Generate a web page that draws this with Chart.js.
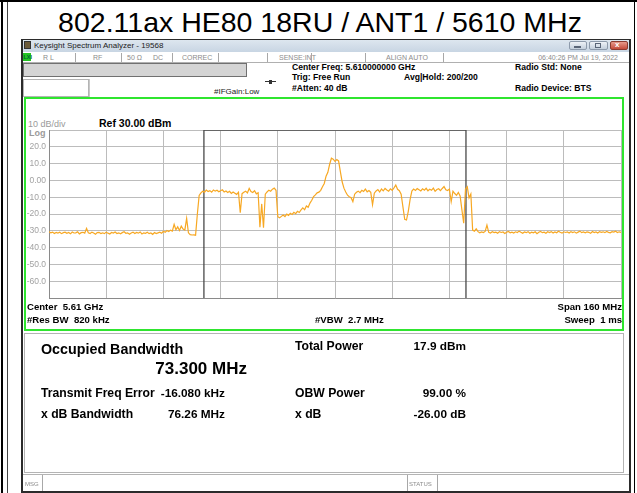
<!DOCTYPE html>
<html lang="en">
<head>
<meta charset="UTF-8">
<title>802.11ax HE80 18RU / ANT1 / 5610 MHz</title>
<script src="https://cdn.jsdelivr.net/npm/chart.js"></script>
<style>
  html, body { margin: 0; padding: 0; background: #fff; }
  #page { position: relative; width: 637px; height: 493px; overflow: hidden;
          font-family: Arial, "Liberation Sans", sans-serif; color: #000; }
  .box { position: absolute; box-sizing: border-box; }
  .t { position: absolute; white-space: nowrap; line-height: 1; }
  .hdr { font-size: 8.6px; font-weight: bold; }
  .stat { font-size: 7px; color: #8c8c8c; }
  .sep { position: absolute; width: 1px; background: #a8a8a8; }
  .gl { font-size: 9px; color: #9a9a9a; }
  .ft { font-size: 9.6px; font-weight: bold; }
  .res { font-size: 12.2px; font-weight: bold; }
  .val { font-size: 11.8px; font-weight: bold; }
  #plot { position: absolute; left: 24px; top: 126px; }
</style>
</head>
<body>
<div id="page">
  <!-- table cell borders -->
  <div class="box" style="left:0;top:0;width:637px;height:2px;background:#000"></div>
  <div class="box" style="left:1px;top:0;width:2px;height:493px;background:#000"></div>
  <div class="box" style="left:7px;top:2px;width:1px;height:491px;background:#444"></div>
  <div class="box" style="left:634px;top:0;width:1px;height:493px;background:#000"></div>

  <div class="t" style="left:2px;width:636px;text-align:center;top:8px;font-size:28.5px">802.11ax HE80 18RU / ANT1 / 5610 MHz</div>

  <!-- analyzer window -->
  <div class="box" style="left:21px;top:39px;width:610px;height:454px;border:2px solid #2b2b2b;border-top-width:1px;background:#fff"></div>
  <div class="box" style="left:23px;top:40px;width:606px;height:12px;background:linear-gradient(#dde6ef,#c8d5e3)"></div>
  <div class="box" style="left:24px;top:41px;width:7px;height:8px;background:#6b5a3a;border:1px solid #333"></div>
  <div class="t" style="left:34px;top:41.5px;font-size:8px;color:#222">Keysight Spectrum Analyzer - 19568</div>
  <div class="box" style="left:569px;top:41px;width:18px;height:9px;background:linear-gradient(#eef2f7,#c3cfdc);border:1px solid #8d9aab;border-radius:2px"></div>
  <div class="box" style="left:589px;top:41px;width:19px;height:9px;background:linear-gradient(#eef2f7,#c3cfdc);border:1px solid #8d9aab;border-radius:2px"></div>
  <div class="box" style="left:610px;top:41px;width:18px;height:9px;background:linear-gradient(#e89a8c,#c44a3a);border:1px solid #8a3a30;border-radius:2px"></div>
  <div class="box" style="left:574px;top:46px;width:7px;height:2px;background:#5a6678"></div>
  <div class="box" style="left:595px;top:43px;width:6px;height:5px;border:1px solid #5a6678"></div>
  <div class="t" style="left:615px;top:41px;font-size:8px;color:#fff;font-weight:bold">x</div>

  <!-- status row -->
  <div class="box" style="left:23px;top:52px;width:606px;height:11px;background:#fff;border-bottom:1px solid #b0b0b0"></div>
  <div class="box" style="left:23px;top:53px;width:8px;height:8px;background:#22c322"></div>
  <div class="t" style="left:23.5px;top:54.5px;font-size:5.5px;font-weight:bold;color:#063">LXI</div>
  <div class="t stat" style="left:43px;top:54px">R L</div>
  <div class="sep" style="left:75px;top:53px;height:9px"></div>
  <div class="t stat" style="left:93px;top:54px">RF</div>
  <div class="sep" style="left:121px;top:53px;height:9px"></div>
  <div class="t stat" style="left:127px;top:54px">50 Ω</div>
  <div class="t stat" style="left:153px;top:54px">DC</div>
  <div class="sep" style="left:172px;top:53px;height:9px"></div>
  <div class="t stat" style="left:182px;top:54px">CORREC</div>
  <div class="sep" style="left:218px;top:53px;height:9px"></div>
  <div class="sep" style="left:267px;top:53px;height:9px"></div>
  <div class="t stat" style="left:279px;top:54px">SENSE:INT</div>
  <div class="sep" style="left:311px;top:53px;height:9px"></div>
  <div class="sep" style="left:365px;top:53px;height:9px"></div>
  <div class="t stat" style="left:386px;top:54px">ALIGN AUTO</div>
  <div class="sep" style="left:443px;top:53px;height:9px"></div>
  <div class="t stat" style="right:19px;top:54px">06:40:26 PM Jul 19, 2022</div>

  <!-- info area -->
  <div class="box" style="left:23px;top:63px;width:224px;height:14px;background:#d4d4d4;border:1px solid #707070"></div>
  <div class="box" style="left:23px;top:79px;width:66px;height:18px;background:#fff;border:1px solid #b4b4b4"></div>
  <div class="box" style="left:89px;top:79px;width:1px;height:18px;background:#c8c8c8"></div>
  <div class="t" style="left:214px;top:87.5px;font-size:8px;color:#222">#IFGain:Low</div>
  <div class="box" style="left:265px;top:81px;width:11px;height:1px;background:#333"></div>
  <div class="box" style="left:269px;top:79.5px;width:3px;height:4px;background:#333"></div>
  <div class="t hdr" style="left:292px;top:63px">Center Freq: 5.610000000 GHz</div>
  <div class="t hdr" style="left:292px;top:73px">Trig: Free Run</div>
  <div class="t hdr" style="left:404px;top:73px">Avg|Hold: 200/200</div>
  <div class="t hdr" style="left:292px;top:84px">#Atten: 40 dB</div>
  <div class="t hdr" style="left:515px;top:63px">Radio Std: None</div>
  <div class="t hdr" style="left:515px;top:84px">Radio Device: BTS</div>

  <!-- graticule frame -->
  <div class="box" style="left:24px;top:97px;width:600px;height:234px;border:2px solid #2fe52f"></div>
  <div class="t gl" style="left:28px;top:119.5px">10 dB/div</div>
  <div class="t gl" style="left:29px;top:129px;font-weight:bold">Log</div>
  <div class="t" style="left:99px;top:118px;font-size:10.5px;font-weight:bold">Ref 30.00 dBm</div>
  <canvas id="plot" width="599" height="176"></canvas>
  <div class="t ft" style="left:27px;top:301.5px">Center&nbsp; 5.61 GHz</div>
  <div class="t ft" style="left:27px;top:315px">#Res BW&nbsp; 820 kHz</div>
  <div class="t ft" style="left:315px;top:315px">#VBW&nbsp; 2.7 MHz</div>
  <div class="t ft" style="right:15px;top:301.5px">Span 160 MHz</div>
  <div class="t ft" style="right:15px;top:315px">Sweep&nbsp; 1 ms</div>

  <!-- result panel -->
  <div class="box" style="left:24px;top:333px;width:600px;height:140px;border:1px solid #b4b4b4"></div>
  <div class="t" style="left:41px;top:341.5px;font-size:14.3px;font-weight:bold">Occupied Bandwidth</div>
  <div class="t" style="right:390px;top:360px;font-size:17px;font-weight:bold">73.300 MHz</div>
  <div class="t res" style="left:41px;top:387px">Transmit Freq Error</div>
  <div class="t val" style="right:412px;top:387.5px">-16.080 kHz</div>
  <div class="t res" style="left:41px;top:408px">x dB Bandwidth</div>
  <div class="t val" style="right:412px;top:408.5px">76.26 MHz</div>
  <div class="t res" style="left:295px;top:340px">Total Power</div>
  <div class="t val" style="right:171px;top:340.5px">17.9 dBm</div>
  <div class="t res" style="left:295px;top:387px">OBW Power</div>
  <div class="t val" style="right:171px;top:387.5px">99.00 %</div>
  <div class="t res" style="left:295px;top:408px">x dB</div>
  <div class="t val" style="right:171px;top:408.5px">-26.00 dB</div>

  <!-- message bar -->
  <div class="box" style="left:23px;top:474px;width:606px;height:17px;border-top:1px solid #b4b4b4"></div>
  <div class="t stat" style="left:25px;top:481px;font-size:6px">MSG</div>
  <div class="sep" style="left:42px;top:475px;height:16px"></div>
  <div class="sep" style="left:407px;top:475px;height:16px"></div>
  <div class="t stat" style="left:409px;top:481px;font-size:6px">STATUS</div>
  <div class="sep" style="left:437px;top:475px;height:16px"></div>
</div>

<script>
// sweep settings (MHz / dBm)
const START_MHZ = 5530;
const STOP_MHZ = 5690;
const STEP_MHZ = 0.5;
const REF_LEVEL = 30;
const BOTTOM_LEVEL = -70;
const DB_PER_DIV = 10;
const FREQ_PER_DIV = 16;

// occupied bandwidth markers
const OBW_START_MHZ = 5573.334;
const OBW_STOP_MHZ = 5646.634;

const Y_TICK_VALUES = [20, 10, 0, -10, -20, -30, -40, -50, -60];
const Y_TICK_LABELS = ['20.0', '10.0', '0.00', '-10.0', '-20.0', '-30.0', '-40.0', '-50.0', '-60.0'];

// trace, one value per 0.5 MHz from 5530 MHz
const LEVEL_DBM = [
  -30.6,-31.2,-30.8,-31.6,-31.0,-31.4,-30.9,-31.7,-31.1,-30.8,
  -31.5,-31.0,-31.8,-30.7,-31.3,-31.2,-30.6,-31.9,-31.1,-30.9,
  -31.4,-28.6,-31.2,-31.6,-30.8,-31.3,-32.0,-31.1,-30.9,-31.6,
  -31.2,-31.7,-30.8,-31.4,-31.9,-31.0,-31.3,-30.7,-31.6,-31.2,
  -31.8,-31.1,-30.6,-31.5,-31.2,-32.0,-31.3,-30.8,-31.6,-31.0,
  -31.4,-30.7,-31.9,-31.2,-31.5,-30.9,-31.7,-31.3,-32.1,-31.0,
  -31.6,-31.2,-30.8,-31.4,-30.3,-30.9,-29.8,-30.4,-29.6,-30.2,
  -26.2,-29.4,-27.6,-29.8,-27.2,-28.9,-29.5,-22.6,-31.2,-32.3,
  -32.5,-32.4,-32.6,-20.0,-9.0,-7.4,-6.5,-7.0,-5.8,-6.6,
  -6.1,-7.0,-5.7,-6.4,-5.9,-6.8,-6.2,-5.6,-6.9,-6.3,
  -7.2,-6.5,-7.8,-6.9,-7.6,-8.3,-7.0,-19.2,-7.9,-7.1,
  -6.4,-7.5,-4.8,-6.6,-7.2,-6.1,-8.0,-7.4,-27.8,-14.0,
  -28.2,-8.2,-6.9,-5.8,-6.4,-5.2,-4.6,-5.9,-21.6,-22.3,
  -21.4,-20.6,-21.5,-20.1,-20.8,-19.6,-20.3,-19.0,-19.8,-18.4,
  -19.1,-17.6,-16.4,-17.5,-15.2,-16.0,-13.5,-11.8,-9.7,-8.6,
  -7.4,-7.0,-5.9,-3.8,-1.8,2.5,4.8,9.6,13.2,12.6,
  11.3,12.4,11.6,5.2,-0.8,-4.6,-6.9,-8.8,-9.7,-10.3,
  -12.6,-8.2,-7.1,-6.4,-7.3,-5.9,-6.6,-5.2,-6.8,-6.0,
  -7.1,-14.5,-7.6,-6.3,-5.5,-6.9,-5.1,-6.2,-4.8,-5.7,
  -6.4,-5.0,-5.9,-4.4,-2.8,-5.3,-6.1,-8.2,-15.8,-23.2,
  -23.6,-18.4,-11.5,-6.4,-5.2,-6.0,-4.9,-5.6,-6.3,-5.0,
  -5.8,-4.7,-6.2,-5.3,-5.9,-4.6,-6.5,-5.4,-5.0,-6.1,
  -4.8,-3.7,-5.6,-6.0,-5.2,-12.6,-6.4,-7.8,-8.9,-7.2,
  -9.3,-17.5,-25.5,-5.2,-3.8,-10.4,-8.1,-29.6,-30.2,-28.8,
  -30.5,-31.2,-30.7,-31.0,-30.4,-26.6,-30.9,-31.3,-30.6,-31.1,
  -30.8,-31.4,-30.5,-31.0,-30.7,-31.6,-30.9,-30.4,-31.2,-30.8,
  -31.3,-30.6,-31.0,-30.2,-30.9,-31.5,-30.7,-31.1,-30.5,-31.4,
  -30.8,-31.2,-30.6,-31.7,-30.9,-30.4,-31.1,-30.8,-31.5,-30.6,
  -31.0,-30.5,-31.3,-30.7,-31.2,-30.3,-30.9,-31.4,-30.6,-31.0,
  -30.7,-31.3,-30.5,-31.0,-30.6,-31.4,-30.8,-30.2,-31.1,-30.7,
  -31.2,-30.6,-30.9,-31.5,-30.4,-31.0,-30.7,-31.3,-30.5,-30.9,
  -30.6,-31.1,-30.4,-30.9,-31.2,-30.5,-30.8,-30.3,-31.0,-30.6,
  -30.9
];
const FREQ_MHZ = LEVEL_DBM.map((_, i) => START_MHZ + i * STEP_MHZ);

let traceColor = '#f7a823';
let gridColor = '#bcbcbc';

let ctx = document.getElementById('plot').getContext('2d');
new Chart(ctx, {
    type: 'line',
    data: {
        datasets: [
            {
                label: 'Trace 1',
                data: FREQ_MHZ.map((f, i) => ({ x: f, y: LEVEL_DBM[i] })),
                borderColor: traceColor,
                borderWidth: 1.2,
                pointRadius: 0,
                tension: 0,
            },
            {
                label: 'OBW',
                data: [
                    { x: OBW_START_MHZ, y: BOTTOM_LEVEL },
                    { x: OBW_START_MHZ, y: REF_LEVEL },
                    { x: OBW_STOP_MHZ, y: REF_LEVEL },
                    { x: OBW_STOP_MHZ, y: BOTTOM_LEVEL },
                ],
                borderColor: '#4a4a4a',
                borderWidth: 1.3,
                pointRadius: 0,
            },
        ]
    },
    options: {
        responsive: false,
        animation: false,
        events: [],
        layout: {
            padding: { top: 4, bottom: 4, left: 0, right: 2 },
        },
        plugins: {
            legend: { display: false },
            tooltip: { enabled: false },
        },
        scales: {
            x: {
                type: 'linear',
                min: START_MHZ,
                max: STOP_MHZ,
                ticks: { display: false, stepSize: FREQ_PER_DIV },
                grid: { color: gridColor, drawTicks: false },
                border: { color: '#8a8a8a' },
                afterFit: (s) => { s.height = 0; s.paddingLeft = 0; s.paddingRight = 0; },
            },
            y: {
                min: BOTTOM_LEVEL,
                max: REF_LEVEL,
                ticks: {
                    stepSize: DB_PER_DIV,
                    padding: 3,
                    color: '#a2a2a2',
                    font: { family: 'Arial, "Liberation Sans", sans-serif', size: 8.5 },
                    callback: (v) => {
                        let k = Y_TICK_VALUES.indexOf(v);
                        return k < 0 ? '' : Y_TICK_LABELS[k];
                    },
                },
                grid: { color: gridColor, drawTicks: false },
                border: { color: '#8a8a8a' },
                afterFit: (s) => { s.width = 25; s.paddingTop = 0; s.paddingBottom = 0; },
            },
        }
    }
});
</script>
</body>
</html>
